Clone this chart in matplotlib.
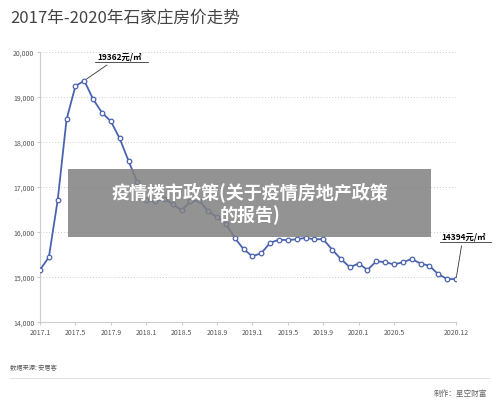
import matplotlib
matplotlib.use("Agg")
import matplotlib.pyplot as plt
from matplotlib.patches import Rectangle

plt.rcParams['font.family'] = ['Noto Sans CJK SC', 'DejaVu Sans']

prices = [15160, 15440, 16710, 18500, 19240, 19362, 18950, 18650, 18460, 18080, 17580, 17100,
          16700, 16680, 16740, 16620, 16480, 16680, 16700, 16460, 16330, 16180, 15870, 15620,
          15460, 15530, 15760, 15830, 15820, 15840, 15870, 15840, 15840, 15610, 15400, 15220,
          15300, 15160, 15350, 15330, 15280, 15330, 15400, 15300, 15250, 15060, 14960, 14950]
tick_labels = ['2017.1', '2017.5', '2017.9', '2018.1', '2018.5', '2018.9', '2019.1',
               '2019.5', '2019.9', '2020.1', '2020.5', '2020.12']
tick_pos = [0, 4, 8, 12, 16, 20, 24, 28, 32, 36, 40, 47]
title = '2017年-2020年石家庄房价走势'
overlay = '疫情楼市政策(关于疫情房地产政策\n的报告)'

fig = plt.figure(figsize=(5, 4.1), dpi=100)
ax = fig.add_axes([0.08, 0.212, 0.832, 0.659])
x = list(range(len(prices)))
ax.plot(x, prices, color='#4a63b0', lw=1.3, marker='o', ms=3.3,
        mfc='white', mec='#4a63b0', mew=0.9, zorder=3)
ax.set_xlim(0, 47)
ax.set_ylim(14000, 20000)
ax.set_yticks(range(14000, 20001, 1000))
ax.set_yticklabels([f'{v:,}' for v in range(14000, 20001, 1000)], fontsize=5, color='#555555')
ax.set_xticks(tick_pos)
ax.set_xticklabels(tick_labels, fontsize=5, color='#555555')
ax.yaxis.grid(True, ls=(0, (1, 2)), color='#cccccc', lw=0.7)
for s in ['top', 'right']:
    ax.spines[s].set_visible(False)
for s in ['left', 'bottom']:
    ax.spines[s].set_color('#cccccc')
ax.tick_params(length=2, color='#cccccc', pad=2)

ax.annotate('19362元/㎡', xy=(5, prices[5]), xytext=(6.5, 19850), fontsize=6,
            fontstyle='italic', fontweight='bold',
            arrowprops=dict(arrowstyle='-', color='#333333', lw=0.6))
ax.plot([6.2, 12.2], [19780, 19780], color='#333333', lw=0.6, clip_on=False)
ax.annotate('14394元/㎡', xy=(47, prices[47]), xytext=(45.3, 15860), fontsize=6,
            fontstyle='italic', fontweight='bold', annotation_clip=False,
            arrowprops=dict(arrowstyle='-', color='#333333', lw=0.6))
ax.plot([45.2, 51], [15780, 15780], color='#333333', lw=0.6, clip_on=False)

fig.text(0.02, 0.955, title, fontsize=12, color='#444444', va='center')
fig.patches.append(Rectangle((0.136, 0.42), 0.726, 0.165, transform=fig.transFigure,
                             facecolor='#808080', alpha=0.85, zorder=10))
fig.text(0.5, 0.503, overlay, fontsize=13, color='white', fontweight='bold',
         ha='center', va='center', zorder=11, linespacing=1.2)
fig.text(0.02, 0.098, '数据来源: 安居客', fontsize=4.5, color='#555555')
fig.add_artist(plt.Line2D([0.02, 0.98], [0.075, 0.075], color='#dddddd', lw=0.6))
fig.text(0.975, 0.035, '制作：星空财富', fontsize=5.5, color='#666666', ha='right')
fig.savefig('out.png', dpi=100)
